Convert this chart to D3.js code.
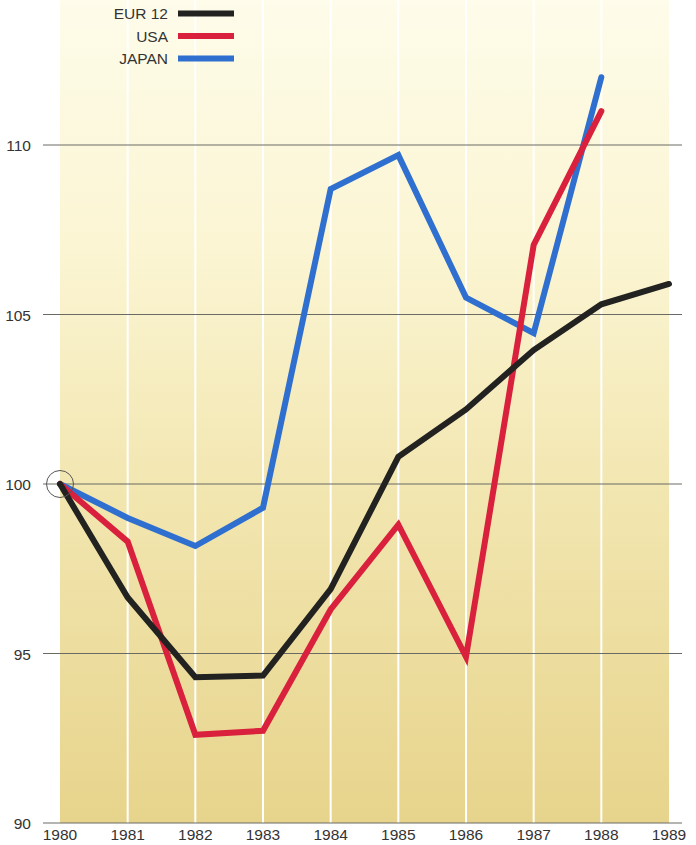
<!DOCTYPE html>
<html>
<head>
<meta charset="utf-8">
<script src="https://d3js.org/d3.v7.min.js"></script>
<style>
  body { margin: 0; background: #fff; }
  text { font-family: "Liberation Sans", Arial, sans-serif; fill: #333; }
</style>
</head>
<body>
<div id="chart"></div>
<script>
// data
var years = [1980, 1981, 1982, 1983, 1984, 1985, 1986, 1987, 1988, 1989];
var eur12 = [100, 96.65, 94.3, 94.35, 96.9, 100.8, 102.2, 103.95, 105.3, 105.9];
var usa   = [100, 98.3, 92.6, 92.72, 96.3, 98.8, 94.9, 107.05, 111.0];
var japan = [100, 99.0, 98.17, 99.3, 108.7, 109.7, 105.5, 104.45, 112.0];
var yTicks = [90, 95, 100, 105, 110];

var series = [
  { name: "EUR 12", values: eur12, color: "#222221" },
  { name: "USA",    values: usa,   color: "#d9203c" },
  { name: "JAPAN",  values: japan, color: "#2f6fcf" }
];

var width = 696, height = 845;

var svg = d3.select("#chart").append("svg")
  .attr("width", width)
  .attr("height", height);

var x = d3.scaleLinear().domain([1980, 1989]).range([60, 669]);
var y = d3.scaleLinear().domain([90, 110]).range([823, 145]);

// background gradient
var grad = svg.append("defs").append("linearGradient")
  .attr("id", "bg").attr("x1", 0).attr("y1", 0).attr("x2", 0).attr("y2", 1);
grad.append("stop").attr("offset", "0%").attr("stop-color", "#fefcea");
grad.append("stop").attr("offset", "30%").attr("stop-color", "#fbf5d3");
grad.append("stop").attr("offset", "60%").attr("stop-color", "#f2e6b0");
grad.append("stop").attr("offset", "100%").attr("stop-color", "#e7d48c");

svg.append("rect")
  .attr("x", x(1980)).attr("y", 0)
  .attr("width", x(1989) - x(1980))
  .attr("height", y(90))
  .attr("fill", "url(#bg)");

// white vertical lines
svg.selectAll(".vline")
  .data(years.slice(1, -1))
  .enter().append("line")
  .attr("class", "vline")
  .attr("x1", function(d) { return x(d); })
  .attr("x2", function(d) { return x(d); })
  .attr("y1", 0).attr("y2", y(90))
  .attr("stroke", "#fff").attr("stroke-width", 2);

// horizontal grid lines
svg.selectAll(".hline")
  .data(yTicks)
  .enter().append("line")
  .attr("class", "hline")
  .attr("x1", 43).attr("x2", 682)
  .attr("y1", function(d) { return y(d); })
  .attr("y2", function(d) { return y(d); })
  .attr("stroke", "#6a6a64").attr("stroke-width", 1);

// y labels
svg.selectAll(".ylab")
  .data(yTicks)
  .enter().append("text")
  .attr("class", "ylab")
  .attr("x", 31)
  .attr("y", function(d) { return y(d) + 6; })
  .attr("text-anchor", "end")
  .style("font-size", "15.5px")
  .text(function(d) { return d; });

// x labels
svg.selectAll(".xlab")
  .data(years)
  .enter().append("text")
  .attr("class", "xlab")
  .attr("x", function(d) { return x(d); })
  .attr("y", 840)
  .attr("text-anchor", "middle")
  .style("font-size", "15.5px")
  .text(function(d) { return d; });

// lines
var line = d3.line()
  .x(function(d, i) { return x(years[i]); })
  .y(function(d) { return y(d); });

svg.selectAll(".series")
  .data(series.slice().reverse())
  .enter().append("path")
  .attr("class", "series")
  .attr("d", function(d) { return line(d.values); })
  .attr("fill", "none")
  .attr("stroke", function(d) { return d.color; })
  .attr("stroke-width", 6)
  .attr("stroke-linejoin", "miter")
  .attr("stroke-linecap", "round");

// circle at base point
svg.append("circle")
  .attr("cx", x(1980)).attr("cy", y(100))
  .attr("r", 13.5)
  .attr("fill", "none")
  .attr("stroke", "#555").attr("stroke-width", 1);

// legend
var legend = svg.selectAll(".legend")
  .data(series)
  .enter().append("g")
  .attr("class", "legend")
  .attr("transform", function(d, i) { return "translate(0," + (13.5 + i * 22.5) + ")"; });

legend.append("text")
  .attr("x", 168).attr("y", 5.5)
  .attr("text-anchor", "end")
  .style("font-size", "15.5px")
  .text(function(d) { return d.name; });

legend.append("line")
  .attr("x1", 178).attr("x2", 234)
  .attr("y1", 0).attr("y2", 0)
  .attr("stroke", function(d) { return d.color; })
  .attr("stroke-width", 6);
</script>
</body>
</html>
